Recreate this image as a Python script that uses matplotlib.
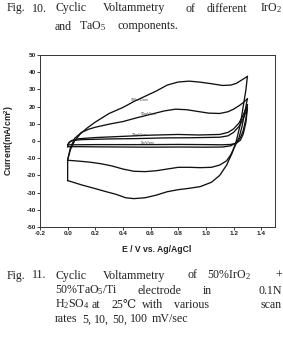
import matplotlib
matplotlib.use("Agg")
import matplotlib.pyplot as plt

# ── Style ─────────────────────────────────────────────────────────────────────
matplotlib.rcParams.update({
    "font.family":      ["Liberation Sans", "DejaVu Sans"],
    "mathtext.fontset": "custom",
    "mathtext.rm":      "Liberation Serif",
    "mathtext.it":      "Liberation Serif:italic",
    "mathtext.bf":      "Liberation Sans:bold",
})

SERIF = ["Liberation Serif", "DejaVu Serif"]

# ── Data (E in V vs Ag/AgCl, current in mA/cm2) ──────────────────────────────
E_100_fwd = [0.0, 0.0, 0.02, 0.05, 0.09, 0.14, 0.2, 0.3, 0.4, 0.48, 0.56, 0.64,
             0.72, 0.8, 0.88, 0.96, 1.04, 1.12, 1.18, 1.22, 1.26, 1.3]
I_100_fwd = [-23, -11, -5, 0, 4, 7.5, 11, 16, 19.5, 23, 26, 29,
             32.5, 34.3, 34.8, 34.2, 33.3, 32.3, 32.5, 33.5, 35.5, 37.5]
E_100_rev = [1.3, 1.29, 1.27, 1.25, 1.22, 1.19, 1.15, 1.1, 1.04, 0.96, 0.88,
             0.8, 0.72, 0.64, 0.56, 0.48, 0.42, 0.35, 0.28, 0.2, 0.1, 0.0]
I_100_rev = [37.5, 30, 20, 10, 0, -7, -14, -20, -24, -26.5, -27.5,
             -28.3, -29.5, -31.5, -33, -33.5, -33, -31, -29.5, -27.7, -25.5, -23]

E_50_fwd = [0.0, 0.02, 0.05, 0.1, 0.15, 0.2, 0.3, 0.4, 0.5, 0.6, 0.7, 0.78,
            0.86, 0.94, 1.02, 1.1, 1.16, 1.2, 1.24, 1.27, 1.3]
I_50_fwd = [-11, -4, 1.5, 5, 6.8, 8, 9.8, 11.3, 13.5, 15.5, 17.5, 18.5,
            18.2, 17.2, 16.2, 16, 17, 18.5, 20.5, 22.3, 24.5]
E_50_rev = [1.3, 1.28, 1.26, 1.24, 1.21, 1.18, 1.15, 1.1, 1.04, 0.96, 0.88,
            0.8, 0.72, 0.64, 0.56, 0.48, 0.4, 0.32, 0.24, 0.16, 0.08, 0.0]
I_50_rev = [24.5, 16, 8, 2, -3, -8, -11.5, -14, -15.3, -15.5, -15.3,
            -15.3, -16.3, -17.3, -17.8, -17.6, -16.3, -14.5, -13.2, -12.3, -11.7, -11.2]

E_10_fwd = [0.0, 0.01, 0.03, 0.08, 0.2, 0.4, 0.6, 0.8, 0.95, 1.1, 1.16, 1.2,
            1.24, 1.27, 1.3]
I_10_fwd = [-3.3, -1, 0.3, 1.3, 2.0, 2.7, 3.4, 3.8, 3.5, 3.8, 5, 7,
            10.5, 15, 21]
E_10_rev = [1.3, 1.29, 1.27, 1.25, 1.22, 1.18, 1.12, 1.0, 0.8, 0.6, 0.4, 0.2,
            0.08, 0.0]
I_10_rev = [21, 13, 6, 2, -1, -2.8, -3.5, -3.6, -3.5, -3.6, -3.5, -3.4,
            -3.3, -3.3]

E_5_fwd = [0.0, 0.01, 0.03, 0.1, 0.3, 0.5, 0.7, 0.9, 1.1, 1.16, 1.2, 1.24,
           1.27, 1.3]
I_5_fwd = [-2.2, -0.8, 0.2, 0.8, 1.2, 1.4, 1.8, 1.9, 2.2, 3, 5, 8.5,
           13, 19]
E_5_rev = [1.3, 1.29, 1.27, 1.25, 1.22, 1.18, 1.12, 1.0, 0.8, 0.6, 0.4, 0.2,
           0.05, 0.0]
I_5_rev = [19, 11, 4, 0.5, -1.3, -2, -2.2, -2.1, -2.0, -2.1, -2.1, -2.1,
           -2.2, -2.2]

CURVE_LABELS = ["100mV/sec", "50mV/sec", "10mV/sec", "5mV/sec"]
LABEL_E = [0.52, 0.59, 0.52, 0.58]
LABEL_I = [24.0, 15.5, 3.6, -1.4]

X_TICKS = [-0.2, 0.0, 0.2, 0.4, 0.6, 0.8, 1.0, 1.2, 1.4]
Y_TICKS = list(range(-50, 51, 10))

# ── Figure ────────────────────────────────────────────────────────────────────
W, H = 283, 342
fig = plt.figure(figsize=(W / 100, H / 100), dpi=100)
fig.patch.set_facecolor("white")


def px(x, y):
    return x / W, 1 - y / H


def caption_words(words, y, size=8.6, last_right=False):
    # y is the text baseline in pixels from the top
    for k, (x, w) in enumerate(words):
        ha = "right" if (last_right and k == len(words) - 1) else "left"
        fig.text(*px(x, y), w, family=SERIF, fontsize=size,
                 ha=ha, va="baseline", color="#222")


# Top caption (continuation of previous figure)
caption_words([(7, "Fig."), (32, "10."), (55, "Cyclic"), (103, "Voltammetry"),
               (185, "of"), (207, "different"), (282, "IrO$_2$")], 11.5,
              last_right=True)
caption_words([(55, "and"), (79, "TaO$_5$"), (117, "components.")], 29.5)

# Bottom caption
caption_words([(7, "Fig."), (32, "11."), (55, "Cyclic"), (103, "Voltammetry"),
               (187, "of"), (207, "50%IrO$_2$"), (282, "+")], 278.5,
              last_right=True)
caption_words([(55, "50%TaO$_5$/Ti"), (138, "electrode"), (203, "in"),
               (282, "0.1N")], 293.5, last_right=True)
caption_words([(55, "H$_2$SO$_4$"), (92, "at"), (112, "25℃"), (142, "with"),
               (174, "various"), (282, "scan")], 307.5, last_right=True)
caption_words([(55, "rates"), (82, "5,"), (94, "10,"), (112, "50,"),
               (130, "100"), (152, "mV/sec")], 322.5)

# ── Axes ──────────────────────────────────────────────────────────────────────
x0, x1, y0, y1 = 40, 275, 55, 227
ax = fig.add_axes([x0 / W, 1 - y1 / H, (x1 - x0) / W, (y1 - y0) / H])

loops = [
    (E_100_fwd, I_100_fwd, E_100_rev, I_100_rev),
    (E_50_fwd, I_50_fwd, E_50_rev, I_50_rev),
    (E_10_fwd, I_10_fwd, E_10_rev, I_10_rev),
    (E_5_fwd, I_5_fwd, E_5_rev, I_5_rev),
]
for ef, jf, er, jr in loops:
    ax.plot(ef, jf, color="#111", linewidth=0.95)
    ax.plot(er, jr, color="#111", linewidth=0.95)

for lab, e, i in zip(CURVE_LABELS, LABEL_E, LABEL_I):
    ax.text(e, i, lab, fontsize=2.6, ha="center", va="center", color="#333")

ax.set_xlim(-0.2, 1.5)
ax.set_ylim(-50, 50)
ax.set_xticks(X_TICKS)
ax.set_yticks(Y_TICKS)
ax.set_xticklabels([f"{t:.1f}" for t in X_TICKS], fontweight="bold")
ax.set_yticklabels([str(t) for t in Y_TICKS], fontweight="bold")
ax.tick_params(direction="out", length=2, width=0.6, labelsize=4.6,
               pad=1.2, colors="#222")
for sp in ax.spines.values():
    sp.set_linewidth(0.7)
    sp.set_color("#333")

fig.text(*px(157, 250), "E / V vs. Ag/AgCl", fontsize=6.2, fontweight="bold",
         ha="center", va="center", color="#222")
fig.text(*px(9, 141), "Current(mA/cm$^\\mathbf{2}$)", fontsize=6.2,
         fontweight="bold", rotation=90, ha="center", va="center", color="#222")

fig.savefig("out.png", dpi=100, facecolor="white")
